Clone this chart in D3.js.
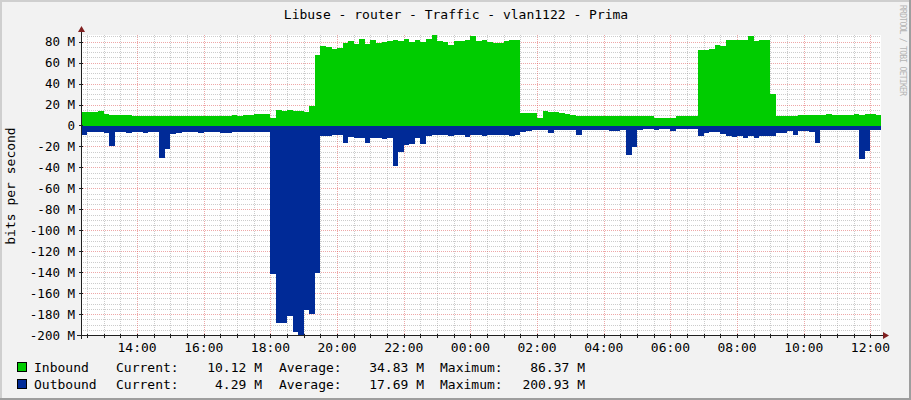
<!DOCTYPE html>
<html><head><meta charset="utf-8">
<script src="https://cdn.jsdelivr.net/npm/d3@7"></script>
<style>
html,body{margin:0;padding:0;background:#f2f2f2;}
svg text{font-family:"DejaVu Sans Mono", monospace;}
</style></head><body>
<svg id="c" width="911" height="400"></svg>
<script>
const title = "Libuse - router - Traffic - vlan1122 - Prima";
const yAxisTitle = "bits per second";
const watermark = "RRDTOOL / TOBI OETIKER";
const domainStart = "2024-01-01T12:19:00";
const domainEnd = "2024-01-02T12:19:00";
const sampleStart = "2024-01-01T12:20:00";
const stepMinutes = 10;

// Mbit/s, one value per 10 minutes
const inbound = [
  13, 12.5, 12.8, 13.5, 11, 10, 10, 10.2, 9.8, 9.5,
  9.5, 9.3, 9.5, 9.2, 9.3, 9, 9.2, 9, 9.3, 9.2,
  9, 9.2, 9.5, 9.3, 9, 9.2, 9.5, 9.8, 9.5, 9.6,
  10, 10.5, 10.8, 11, 7, 14.5, 14, 14.5, 14.2, 14,
  12.5, 19, 67, 76, 75, 73, 74, 79, 80.5, 78,
  83, 77.5, 82, 79, 80, 81, 81.5, 80.5, 83, 80,
  82, 80, 83, 86.37, 81, 80, 77, 81, 80.5, 82,
  85, 81, 82, 80, 79, 79, 81, 81.5, 81.5, 12,
  12, 12, 7, 13.7, 13, 12.5, 12, 11, 10, 9.5,
  9, 8.8, 8.8, 9, 9, 9, 9.2, 9, 9, 9.1,
  9, 9, 9, 6.7, 6.7, 6.8, 7, 9.5, 9.3, 9,
  9, 72, 72, 73, 77, 76, 82, 82, 82, 81.5,
  85, 81, 82, 82, 30, 9.5, 9.5, 9.3, 9.5, 9.8,
  9.6, 9.8, 10, 10.2, 10.5, 10.3, 10, 10.4, 10.2, 10.5,
  10, 10.6, 11, 10.12
];
const outbound = [
  9, 6, 6, 6.5, 7, 20, 6.5, 6.5, 6.8, 6.5,
  6.5, 6.8, 6.5, 6.5, 31, 22, 8, 7, 6.5, 6.5,
  6.5, 7.5, 6.5, 6.5, 6.5, 6.8, 7.5, 6.5, 6.5, 6.2,
  6, 5.8, 5.8, 6, 142, 189, 189, 182, 197, 200.93,
  176, 180, 141, 10, 10, 9.5, 9, 17, 11, 11.5,
  12, 17, 12, 12, 12.5, 12, 39, 25, 18.6, 18,
  12, 18, 10, 9.5, 9.5, 9.5, 10, 9.5, 9.5, 11,
  9.5, 9.5, 10.5, 9.5, 9.5, 9.5, 9, 10.5, 9.5, 6,
  5, 4.5, 4.5, 4.5, 7, 4.5, 4.5, 4.5, 4.5, 9,
  4.5, 4.5, 4.5, 4, 4, 5.5, 5, 4, 28, 21,
  4, 3.8, 3.8, 4.5, 3.8, 3.8, 5, 3.8, 3.8, 3.8,
  3.8, 10, 7, 6, 6.5, 8, 10.5, 11, 10.5, 11.5,
  10.5, 12, 10.5, 10.5, 10, 7, 7, 5.5, 9.5, 5.5,
  5.5, 6, 17, 4, 4, 4, 4.2, 4, 4, 4.5,
  32, 24, 4, 4.29
];

const yTicks = [80, 60, 40, 20, 0, -20, -40, -60, -80, -100, -120, -140, -160, -180, -200];
const yTickLabels = ["80 M","60 M","40 M","20 M","0","-20 M","-40 M","-60 M","-80 M","-100 M","-120 M","-140 M","-160 M","-180 M","-200 M"];
const yMinorStep = 5;
const yMin = -200, yMax = 86.37;
const xTickLabels = ["14:00","16:00","18:00","20:00","22:00","00:00","02:00","04:00","06:00","08:00","10:00","12:00"];
const xMajorHours = 2, xMinorMinutes = 30;

const seriesNames = ["Inbound", "Outbound"];
const seriesColors = ["#00cc00", "#002a97"];
const currentVals = ["10.12 M", "4.29 M"];
const averageVals = ["34.83 M", "17.69 M"];
const maximumVals = ["86.37 M", "200.93 M"];

const W = 911, H = 400;
const L = 81, R = 881, T = 35, B = 335;
const svg = d3.select("#c");

const x = d3.scaleTime().domain([new Date(domainStart), new Date(domainEnd)]).range([L, R]);
const y = d3.scaleLinear().domain([yMin, yMax]).range([B, T]);

// background + 3D frame
svg.append("rect").attr("width", W).attr("height", H).attr("fill", "#f2f2f2");
svg.append("rect").attr("x", 0).attr("y", 0).attr("width", W).attr("height", 2).attr("fill", "#cfcfcf");
svg.append("rect").attr("x", 0).attr("y", 0).attr("width", 2).attr("height", H).attr("fill", "#cfcfcf");
svg.append("rect").attr("x", W - 2).attr("y", 0).attr("width", 2).attr("height", H).attr("fill", "#9e9e9e");
svg.append("rect").attr("x", 0).attr("y", H - 2).attr("width", W).attr("height", 2).attr("fill", "#9e9e9e");

// canvas
svg.append("rect").attr("x", L).attr("y", T).attr("width", R - L).attr("height", B - T).attr("fill", "#ffffff");

svg.append("clipPath").attr("id", "clip").append("rect")
  .attr("x", L).attr("y", T).attr("width", R - L).attr("height", B - T);

// grid (under data)
const grid = svg.append("g").attr("shape-rendering", "crispEdges");
const minorColor = "rgba(143,143,143,0.45)";
const majorColor = "rgba(222,79,79,0.5)";
const yMinor = d3.range(yMin, yMax, yMinorStep).filter(v => !yTicks.includes(v));
grid.selectAll(".ymin").data(yMinor).enter().append("line")
  .attr("x1", L).attr("x2", R).attr("y1", d => Math.round(y(d)) + 0.5).attr("y2", d => Math.round(y(d)) + 0.5)
  .attr("stroke", minorColor).attr("stroke-dasharray", "1,1");
const xMinor = x.ticks(d3.timeMinute.every(xMinorMinutes)).filter(d => !(d.getMinutes() === 0 && d.getHours() % xMajorHours === 0));
grid.selectAll(".xmin").data(xMinor).enter().append("line")
  .attr("y1", T).attr("y2", B).attr("x1", d => Math.round(x(d)) + 0.5).attr("x2", d => Math.round(x(d)) + 0.5)
  .attr("stroke", minorColor).attr("stroke-dasharray", "1,1");
grid.selectAll(".ymaj").data(yTicks.filter(v => v !== yMin)).enter().append("line")
  .attr("x1", L).attr("x2", R).attr("y1", d => Math.round(y(d)) + 0.5).attr("y2", d => Math.round(y(d)) + 0.5)
  .attr("stroke", majorColor).attr("stroke-dasharray", "1,1");
const xMajor = x.ticks(d3.timeHour.every(xMajorHours));
grid.selectAll(".xmaj").data(xMajor).enter().append("line")
  .attr("y1", T).attr("y2", B).attr("x1", d => Math.round(x(d)) + 0.5).attr("x2", d => Math.round(x(d)) + 0.5)
  .attr("stroke", majorColor).attr("stroke-dasharray", "1,1");

const t0 = new Date(sampleStart).getTime();
const mk = arr => {
  const pts = arr.map((v, i) => ({ t: new Date(t0 + i * stepMinutes * 60000), v }));
  pts.push({ t: new Date(domainEnd), v: arr[arr.length - 1] });
  return pts;
};
const inPts = mk(inbound);
const outPts = mk(outbound);

const g = svg.append("g").attr("clip-path", "url(#clip)").attr("shape-rendering", "crispEdges");
g.append("path").datum(inPts)
  .attr("d", d3.area().x(d => Math.round(x(d.t))).y0(Math.round(y(0)) + 1).y1(d => Math.round(y(d.v))).curve(d3.curveStepAfter))
  .attr("fill", seriesColors[0]);
g.append("path").datum(outPts)
  .attr("d", d3.area().x(d => Math.round(x(d.t))).y0(Math.round(y(0)) + 1).y1(d => Math.round(y(-d.v))).curve(d3.curveStepAfter))
  .attr("fill", seriesColors[1]);

// axes
const axisColor = "#1f1f1f", arrowColor = "#801f1f";
const ax = svg.append("g").attr("shape-rendering", "crispEdges");
ax.append("line").attr("x1", L - 4).attr("x2", R + 4).attr("y1", B + 0.5).attr("y2", B + 0.5).attr("stroke", axisColor);
ax.append("line").attr("x1", L + 0.5).attr("x2", L + 0.5).attr("y1", B + 4).attr("y2", T - 4).attr("stroke", axisColor);
ax.selectAll(".xt").data(xMinor.concat(xMajor)).enter().append("line")
  .attr("x1", d => Math.round(x(d)) + 0.5).attr("x2", d => Math.round(x(d)) + 0.5)
  .attr("y1", B - 1).attr("y2", B + 3).attr("stroke", axisColor);
ax.selectAll(".yt").data(yTicks).enter().append("line")
  .attr("x1", L - 2).attr("x2", L + 2).attr("y1", d => Math.round(y(d)) + 0.5).attr("y2", d => Math.round(y(d)) + 0.5)
  .attr("stroke", axisColor);
svg.append("path").attr("d", `M${R + 2},${B - 3} L${R + 8},${B + 0.5} L${R + 2},${B + 4} Z`).attr("fill", arrowColor);
svg.append("path").attr("d", `M${L - 3},${T - 3} L${L + 0.5},${T - 9} L${L + 4},${T - 3} Z`).attr("fill", arrowColor);

// y tick labels
svg.selectAll(".yl").data(yTicks).enter().append("text")
  .attr("x", 75).attr("y", d => y(d) + 4.5).attr("text-anchor", "end")
  .attr("font-size", 12.5).attr("fill", "#000")
  .text((d, i) => yTickLabels[i]);

// x tick labels
svg.selectAll(".xl").data(xMajor).enter().append("text")
  .attr("x", d => x(d)).attr("y", 352).attr("text-anchor", "middle")
  .attr("font-size", 13).attr("fill", "#000")
  .text((d, i) => xTickLabels[i]);

// title
svg.append("text").attr("x", 456).attr("y", 19).attr("text-anchor", "middle")
  .attr("font-size", 13).attr("fill", "#000").text(title);

// y axis title
svg.append("text").attr("transform", "translate(15,186) rotate(-90)").attr("text-anchor", "middle")
  .attr("font-size", 13).attr("fill", "#000").text(yAxisTitle);

// watermark
svg.append("text").attr("transform", "translate(900,5) rotate(90)").attr("text-anchor", "start")
  .attr("font-size", 8).attr("textLength", 91).attr("lengthAdjust", "spacing")
  .attr("fill", "#b4b4b4").text(watermark);

// legend
const rowsY = [372, 389];
seriesNames.forEach((name, i) => {
  const by = rowsY[i];
  svg.append("rect").attr("x", 17.5).attr("y", by - 9.5).attr("width", 9).attr("height", 9)
    .attr("fill", seriesColors[i]).attr("stroke", "#000").attr("stroke-width", 1);
  const tx = (xx, s, anchor) => svg.append("text").attr("x", xx).attr("y", by)
    .attr("text-anchor", anchor || "start").attr("font-size", 13).attr("fill", "#000").text(s);
  tx(34, name);
  tx(116, "Current:");
  tx(262, currentVals[i], "end");
  tx(279, "Average:");
  tx(424, averageVals[i], "end");
  tx(440, "Maximum:");
  tx(585, maximumVals[i], "end");
});
</script>
</body></html>
